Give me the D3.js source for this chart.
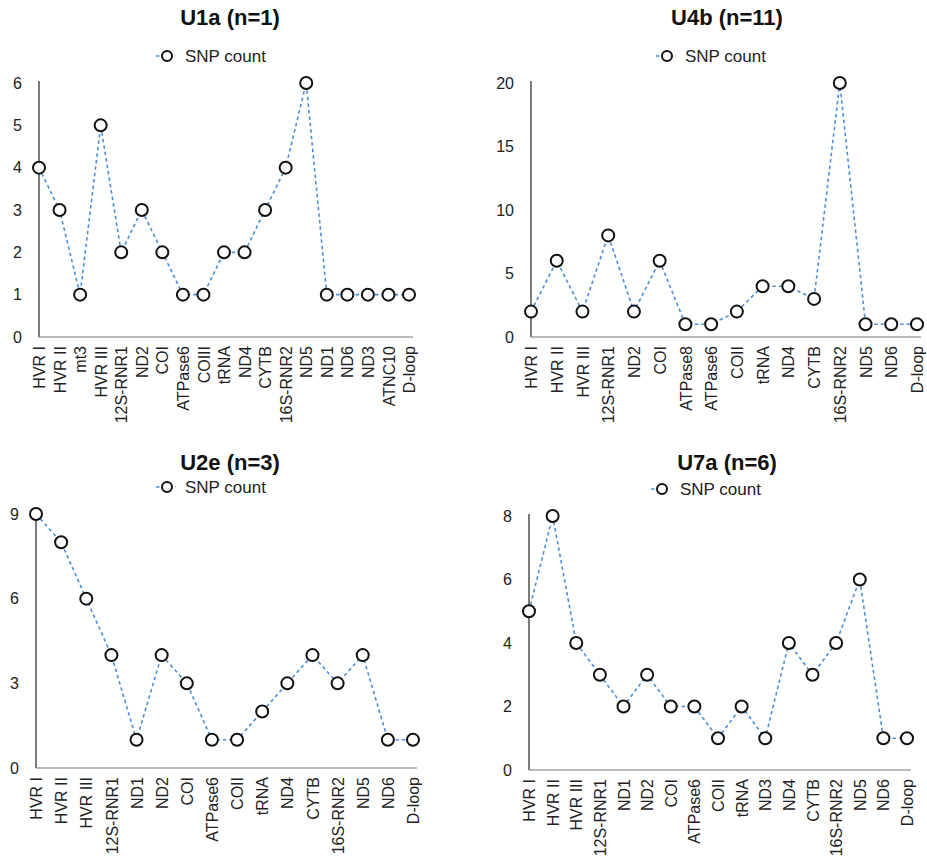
<!DOCTYPE html>
<html>
<head>
<meta charset="utf-8">
<script src="https://cdn.jsdelivr.net/npm/d3@7"></script>
<style>
  body { margin: 0; background: #fff; }
  svg { display: block; font-family: "Liberation Sans", Arial, sans-serif; }
  .title { font-weight: bold; font-size: 22px; fill: #111; }
  .legend text { font-size: 17px; fill: #222; }
  .axis text { font-family: "Liberation Sans", Arial, sans-serif; font-size: 16px; fill: #222; }
  .snp { fill: none; stroke: #4a8fd8; stroke-width: 1.6; stroke-dasharray: 3.5,3; }
  .dot { fill: #fff; stroke: #111; stroke-width: 2; }
</style>
</head>
<body>
<svg id="chart" width="927" height="865"></svg>
<script>
// --- data ---
var u1aGenes = ["HVR I", "HVR II", "mt3", "HVR III", "12S-RNR1", "ND2", "COI", "ATPase6", "COIII",
  "tRNA", "ND4", "CYTB", "16S-RNR2", "ND5", "ND1", "ND6", "ND3", "ATNC10", "D-loop"];
var u1aCounts = [4, 3, 1, 5, 2, 3, 2, 1, 1, 2, 2, 3, 4, 6, 1, 1, 1, 1, 1];
var u1aTicks = [0, 1, 2, 3, 4, 5, 6];

var u4bGenes = ["HVR I", "HVR II", "HVR III", "12S-RNR1", "ND2", "COI", "ATPase8", "ATPase6", "COII",
  "tRNA", "ND4", "CYTB", "16S-RNR2", "ND5", "ND6", "D-loop"];
var u4bCounts = [2, 6, 2, 8, 2, 6, 1, 1, 2, 4, 4, 3, 20, 1, 1, 1];
var u4bTicks = [0, 5, 10, 15, 20];

var u2eGenes = ["HVR I", "HVR II", "HVR III", "12S-RNR1", "ND1", "ND2", "COI", "ATPase6", "COII",
  "tRNA", "ND4", "CYTB", "16S-RNR2", "ND5", "ND6", "D-loop"];
var u2eCounts = [9, 8, 6, 4, 1, 4, 3, 1, 1, 2, 3, 4, 3, 4, 1, 1];
var u2eTicks = [0, 3, 6, 9];

var u7aGenes = ["HVR I", "HVR II", "HVR III", "12S-RNR1", "ND1", "ND2", "COI", "ATPase6", "COII",
  "tRNA", "ND3", "ND4", "CYTB", "16S-RNR2", "ND5", "ND6", "D-loop"];
var u7aCounts = [5, 8, 4, 3, 2, 3, 2, 2, 1, 2, 1, 4, 3, 4, 6, 1, 1];
var u7aTicks = [0, 2, 4, 6, 8];

function SnpPanel() {
  /* placement, passed in by the caller */
  var x0 = 0, x1 = 400, yTop = 80, yBottom = 340;
  var titleY = 18, legendX = 167, legendY = 56, titleX = 230;
  var title = "";

  function panel(selection) {
    selection.each(function(d) {
      var g = d3.select(this);
      var rows = d.genes.map(function(gene, i) { return { gene: gene, count: d.counts[i] }; });

      var x = d3.scalePoint().domain(d.genes).range([x0, x1]).padding(0);
      var y = d3.scaleLinear().domain([0, d3.max(d.ticks)]).range([yBottom, yTop]);

      g.append("text").attr("class", "title").attr("x", titleX).attr("y", titleY)
        .attr("text-anchor", "middle").attr("dominant-baseline", "middle").text(title);

      // legend
      var lg = g.append("g").attr("class", "legend").attr("transform", "translate(" + legendX + "," + legendY + ")");
      lg.append("line").attr("class", "snp").attr("x1", -11).attr("x2", 9).attr("y1", 0).attr("y2", 0);
      lg.append("circle").attr("class", "dot").attr("r", 5);
      lg.append("text").attr("x", 18).attr("dy", "0.35em").text("SNP count");

      // axes
      var yAxis = d3.axisLeft(y).tickValues(d.ticks).tickFormat(d3.format("d")).tickSize(0).tickPadding(17);
      g.append("g").attr("class", "axis").attr("transform", "translate(" + x0 + ",0)").call(yAxis)
        .select(".domain").remove();
      g.append("line").attr("x1", x0).attr("x2", x0).attr("y1", yTop - 2).attr("y2", yBottom)
        .attr("stroke", "#222").attr("stroke-width", 1.2);

      var xAxis = d3.axisBottom(x).tickSize(0).tickPadding(0);
      var xa = g.append("g").attr("class", "axis").attr("transform", "translate(0," + yBottom + ")").call(xAxis);
      xa.select(".domain").remove();
      xa.selectAll("text").attr("transform", "rotate(-90)").attr("text-anchor", "end")
        .attr("x", -9).attr("y", 0).attr("dy", "0.35em");
      g.append("line").attr("x1", x0).attr("x2", x1 + 4).attr("y1", yBottom).attr("y2", yBottom)
        .attr("stroke", "#777").attr("stroke-width", 1.2);

      // series
      var line = d3.line().x(function(r) { return x(r.gene); }).y(function(r) { return y(r.count); });
      g.append("path").datum(rows).attr("class", "snp").attr("d", line);
      g.selectAll("circle.pt").data(rows).enter().append("circle").attr("class", "dot pt")
        .attr("cx", function(r) { return x(r.gene); })
        .attr("cy", function(r) { return y(r.count); })
        .attr("r", 6);
    });
  }

  panel.x0 = function(_) { if (!arguments.length) return x0; x0 = _; return panel; };
  panel.x1 = function(_) { if (!arguments.length) return x1; x1 = _; return panel; };
  panel.yTop = function(_) { if (!arguments.length) return yTop; yTop = _; return panel; };
  panel.yBottom = function(_) { if (!arguments.length) return yBottom; yBottom = _; return panel; };
  panel.titleX = function(_) { if (!arguments.length) return titleX; titleX = _; return panel; };
  panel.titleY = function(_) { if (!arguments.length) return titleY; titleY = _; return panel; };
  panel.legendX = function(_) { if (!arguments.length) return legendX; legendX = _; return panel; };
  panel.legendY = function(_) { if (!arguments.length) return legendY; legendY = _; return panel; };
  panel.title = function(_) { if (!arguments.length) return title; title = _; return panel; };

  return panel;
}

var svg = d3.select("#chart");

svg.append("g").datum({ genes: u1aGenes, counts: u1aCounts, ticks: u1aTicks })
  .call(SnpPanel().title("U1a (n=1)").x0(39).x1(409).yTop(83).yBottom(337)
    .titleX(230).titleY(19).legendX(167).legendY(56));

svg.append("g").datum({ genes: u4bGenes, counts: u4bCounts, ticks: u4bTicks })
  .call(SnpPanel().title("U4b (n=11)").x0(531).x1(917).yTop(83).yBottom(337)
    .titleX(727).titleY(19).legendX(667).legendY(56));

svg.append("g").datum({ genes: u2eGenes, counts: u2eCounts, ticks: u2eTicks })
  .call(SnpPanel().title("U2e (n=3)").x0(36).x1(413).yTop(514).yBottom(768)
    .titleX(230).titleY(464).legendX(167).legendY(487));

svg.append("g").datum({ genes: u7aGenes, counts: u7aCounts, ticks: u7aTicks })
  .call(SnpPanel().title("U7a (n=6)").x0(529).x1(907).yTop(516).yBottom(770)
    .titleX(727).titleY(464).legendX(662).legendY(489));
</script>
</body>
</html>
